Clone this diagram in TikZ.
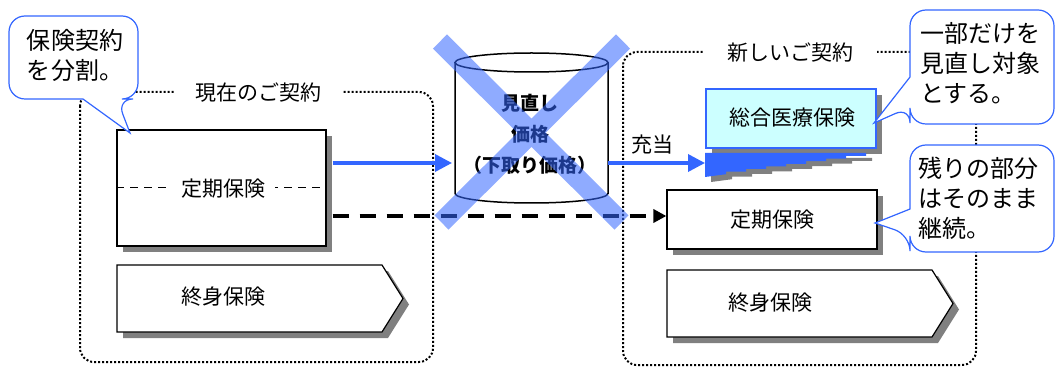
\documentclass[tikz,border=0pt]{standalone}
\usepackage{fontspec}
\setmainfont{Noto Sans CJK JP}
\usetikzlibrary{arrows.meta,shadows,calc}
\definecolor{cblue}{HTML}{3366FF}
\definecolor{cyanfill}{HTML}{CCFFFF}
\definecolor{shgray}{HTML}{808080}
\begin{document}
\begin{tikzpicture}[x=1pt,y=-1pt,
  lbl/.style={font=\fontsize{21}{25}\selectfont, inner sep=0pt},
  box/.style={draw=black, line width=1.2pt, fill=white, inner sep=0pt,
    drop shadow={shadow xshift=6pt, shadow yshift=-6pt, fill=shgray, opacity=1}},
  grp/.style={line width=2pt, dash pattern=on 2pt off 2pt, rounded corners=14pt},
  callout/.style={draw=cblue, line width=1.2pt, fill=white},
  ctext/.style={font=\fontsize{24}{30}\selectfont, align=left, inner sep=0pt},
  barrow/.style={cblue, line width=3.5pt, -{Triangle[length=17pt,width=17pt]}},
  darrow/.style={black, line width=4pt, dash pattern=on 16pt off 11pt, -{Triangle[length=13pt,width=13pt]}},
  cylline/.style={line width=1.5pt, black},
]
\useasboundingbox (0,0) rectangle (1059,387);
\fill[white] (0,0) rectangle (1059,387);

% groups
\draw[grp] (80,92) rectangle (433,362);
\node[lbl, fill=white, inner xsep=21pt, inner ysep=3pt] (g1) at (258,93) {現在のご契約};
\draw[grp] (623,52) rectangle (976,365);
\node[lbl, fill=white, inner xsep=24pt, inner ysep=3pt] (g2) at (790,53) {新しいご契約};

% left side
\node[box, minimum width=209pt, minimum height=116pt] (ltb) at (221.5,188) {};
\draw[line width=1pt, dash pattern=on 8pt off 6pt] (ltb.west) -- (ltb.east);
\node[lbl, fill=white, inner xsep=10pt, inner ysep=2pt] (ltt) at (223,189) {定期保険};
\path[box] (117,265) -- (382,265) -- (403,298.5) -- (382,332) -- (117,332) -- cycle;
\node[lbl] (lwt) at (223,297) {終身保険};

% right side
\node[box, draw=cblue, line width=1.5pt, fill=cyanfill, minimum width=170pt, minimum height=59pt] (med) at (791,118.5) {};
\node[lbl] (medt) at (792,118) {総合医療保険};
\path[fill=cblue, drop shadow={shadow xshift=6pt, shadow yshift=-5pt, fill=shgray, opacity=1}]
  (705,153) -- (866,153) -- (866,156) -- (846,156) -- (846,158.6) -- (826,158.6) -- (826,161.2)
  -- (806,161.2) -- (806,163.8) -- (786,163.8) -- (786,166.4) -- (766,166.4) -- (766,169)
  -- (746,169) -- (746,171.6) -- (726,171.6) -- (726,174.2) -- (705,177) -- cycle;
\coordinate (wedgeL) at (705,163);
\node[box, minimum width=210pt, minimum height=59pt] (rtb) at (772,219.5) {};
\node[lbl] (rtt) at (772,220) {定期保険};
\path[box] (667,270) -- (932,270) -- (953,303.5) -- (932,337) -- (667,337) -- cycle;
\node[lbl] (rwt) at (770,303) {終身保険};

% cylinder
\fill[white] (455,62.5) -- (455,193.5) arc[start angle=180,end angle=360,x radius=76.5pt,y radius=9.5pt] -- (608,62.5) -- cycle;
\draw[cylline] (455,62.5) -- (455,193.5) arc[start angle=180,end angle=360,x radius=76.5pt,y radius=9.5pt] -- (608,62.5);
\draw[cylline] (531.5,62.5) ellipse [x radius=76.5pt, y radius=9.5pt];
\node[font=\bfseries\fontsize{19}{31}\selectfont, align=center, inner sep=0pt] (cyl) at (530,134) {見直し\\価格\\（下取り価格）};
\coordinate (cylL) at (452,163);
\coordinate (cylR) at (608,163);

% arrows
\draw[barrow] ($(ltb.east |- cylL)+(6,0)$) -- (cylL);
\draw[barrow] (cylR) -- (wedgeL);
\node[lbl] (jutou) at (652,145) {充当};
\coordinate (dS) at ($(ltb.east)+(6,28)$);
\draw[darrow] (dS) -- (dS -| rtb.west);

% cross
\draw[cblue, opacity=0.55, line width=20pt] (440,41.5) -- (621.5,222.5) (623,41.5) -- (441.5,222.5);

% callouts
\path[callout] (9,55) [rounded corners=16pt] -- (9,16) -- (138,16) -- (138,99) -- (117,99) [sharp corners] -- (130,133) -- (83,99) [rounded corners=16pt] -- (9,99) -- cycle;
\node[ctext] (c1t) at (75,55) {保険契約\\を分割。};
\path[callout] (982,10) [rounded corners=16pt] -- (1054,10) -- (1054,124) -- (910,124) -- (910,107) [sharp corners] -- (874,123) -- (910,77) [rounded corners=16pt] -- (910,10) -- cycle;
\node[ctext] (c2t) at (980,63) {一部だけを\\見直し対象\\とする。};
\path[callout] (982,145) [rounded corners=16pt] -- (1054,145) -- (1054,252) -- (910,252) -- (910,235) [sharp corners] -- (875,223) -- (910,209) [rounded corners=16pt] -- (910,145) -- cycle;
\node[ctext] (c3t) at (978,198) {残りの部分\\はそのまま\\継続。};
\end{tikzpicture}
\end{document}
